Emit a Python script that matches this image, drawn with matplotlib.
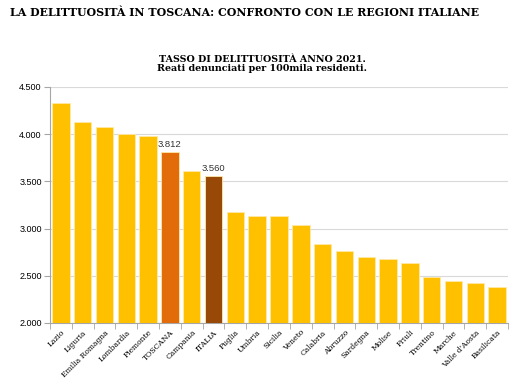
import matplotlib.pyplot as plt
import numpy as np
from matplotlib.ticker import FuncFormatter

regioni = ['Lazio', 'Liguria', 'Emilia Romagna', 'Lombardia', 'Piemonte', 'TOSCANA',
           'Campania', 'ITALIA', 'Puglia', 'Umbria', 'Sicilia', 'Veneto', 'Calabria',
           'Abruzzo', 'Sardegna', 'Molise', 'Friuli', 'Trentino', 'Marche',
           "Valle d'Aosta", 'Basilicata']
tasso = [4327, 4133, 4080, 3999, 3981, 3812, 3610, 3560, 3179, 3137, 3133, 3038,
         2834, 2763, 2703, 2682, 2640, 2491, 2445, 2424, 2378]
evidenziati = {'TOSCANA': '#E36C0A', 'ITALIA': '#984807'}
giallo = '#FFC000'

colori = [evidenziati.get(r, giallo) for r in regioni]

fig = plt.figure(figsize=(5.23, 3.80), dpi=100)
ax = fig.add_axes([50/523, 1 - 323/380, 458/523, (323-87)/380])

x = np.arange(len(regioni))
bars = ax.bar(x, tasso, width=0.8, color=colori, edgecolor='#FFE9A8', linewidth=0.6, zorder=3)

ax.set_ylim(2000, 4500)
ax.set_xlim(-0.5, len(regioni) - 0.5)
ax.set_yticks(np.arange(2000, 4501, 500))
ax.yaxis.set_major_formatter(FuncFormatter(lambda v, p: f'{int(v):,}'.replace(',', '.')))
ax.grid(axis='y', color='#D9D9D9', linewidth=0.8, zorder=0)

# tick sulle separazioni tra le barre
ax.set_xticks(x)
ax.set_xticklabels(regioni, rotation=45, ha='right', rotation_mode='anchor',
                   family='DejaVu Serif', fontsize=5.5)
ax.set_xticks(np.arange(-0.5, len(regioni)), minor=True)
ax.tick_params(axis='x', which='major', length=0, pad=4)
ax.tick_params(axis='x', which='minor', length=4, color='#A6A6A6')
ax.tick_params(axis='y', length=4, color='#A6A6A6', labelsize=6.5, pad=2)
for lab in ax.get_yticklabels():
    lab.set_family('Liberation Sans')

for s in ['top', 'right']:
    ax.spines[s].set_visible(False)
for s in ['left', 'bottom']:
    ax.spines[s].set_color('#A6A6A6')
    ax.spines[s].set_linewidth(0.8)

for r, v, xi in zip(regioni, tasso, x):
    if r in evidenziati:
        ax.text(xi, v + 30, f'{v:,}'.replace(',', '.'), ha='center', va='bottom',
                fontsize=6.8, family='Liberation Sans', color='#333333')

fig.text(10/523, 1 - 12/380, 'LA DELITTUOSITÀ IN TOSCANA: CONFRONTO CON LE REGIONI ITALIANE',
         family='DejaVu Serif', fontweight='bold', fontsize=7.9, va='center', ha='left')
fig.text(262/523, 1 - 64/380, 'TASSO DI DELITTUOSITÀ ANNO 2021.\nReati denunciati per 100mila residenti.',
         family='DejaVu Serif', fontweight='bold', fontsize=6.8, va='center', ha='center',
         linespacing=1.0)

fig.savefig('out.png', dpi=100)
